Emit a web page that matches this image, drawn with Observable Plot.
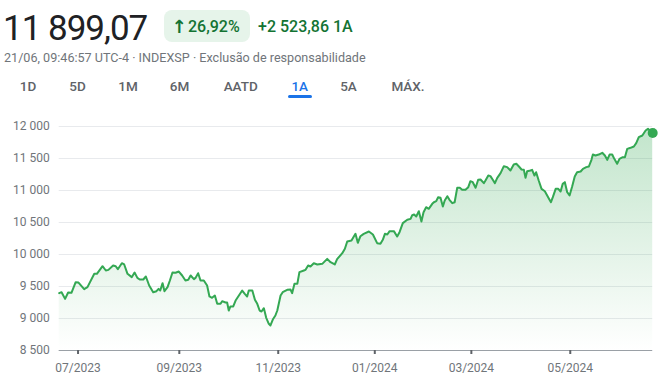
<!DOCTYPE html>
<html><head><meta charset="utf-8">
<script src="https://cdn.jsdelivr.net/npm/d3@7"></script>
<script src="https://cdn.jsdelivr.net/npm/@observablehq/plot@0.6"></script>
<style>
html,body{margin:0;padding:0;background:#fff;width:671px;height:387px;overflow:hidden;font-family:Roboto,sans-serif;}
#header{position:absolute;left:0;top:0;}
#chart{position:absolute;left:0;top:105px;}
</style></head><body>
<svg id="header" width="671" height="105" font-family="Roboto, sans-serif">
  <text x="3" y="40" font-size="35" fill="#202124" letter-spacing="-1">11 899,07</text>
  <rect x="164" y="10" width="86" height="32" rx="8" fill="#e6f4ea"></rect>
  <text x="179" y="32.5" font-size="18" font-weight="bold" font-family="DejaVu Sans" fill="#137333" text-anchor="middle">↑</text>
  <text x="188" y="31.5" font-size="16" font-weight="500" fill="#137333">26,92%</text>
  <text x="258" y="31.5" font-size="16" font-weight="500" fill="#137333">+2 523,86 1A</text>
  <text x="4" y="61.5" font-size="12.6" fill="#70757a">21/06, 09:46:57 UTC-4 · INDEXSP · Exclusão de responsabilidade</text>
  <g font-size="13.5" font-weight="500" fill="#5f6368" text-anchor="middle">
    <text x="28" y="91">1D</text>
    <text x="77.5" y="91">5D</text>
    <text x="128" y="91">1M</text>
    <text x="179.5" y="91">6M</text>
    <text x="240.7" y="91">AATD</text>
    <text x="299.7" y="91" fill="#1a73e8">1A</text>
    <text x="348.5" y="91">5A</text>
    <text x="408" y="91">MÁX.</text>
  </g>
  <rect x="288" y="95" width="24" height="3" rx="1.5" fill="#1a73e8"></rect>
</svg>
<div id="chart"></div>
<script>
// trading-session index since 21/06/2023 (0) to 21/06/2024 (252)
const day = [0,1.0,2.5,3.8,5.2,7.0,8.2,10.6,12.0,14.9,16.0,18.4,19.8,20.9,22.9,24.0,24.9,26.6,27.6,29.0,30.8,32.0,33.2,34.2,35.7,36.8,38.2,39.9,41.3,42.2,42.9,43.9,44.7,46.0,47.0,48.1,
49.4,50.8,52.2,53.6,54.8,55.8,57.2,57.9,59.0,60.0,61.4,62.8,63.8,64.9,66.1,67.1,68.5,69.2,70.6,71.3,72.0,72.7,73.9,74.9,76.3,77.7,78.8,79.8,80.5,82.0,83.1,84.1,85.1,85.9,86.9,87.9,89.0,89.7,90.7,91.8,92.6,94.0,94.9,96.8,98.2,98.9,99.9,101.1,102.0,103.9,104.6,
105.7,106.7,108.1,109.6,111.7,113.8,115.2,117.0,118.0,120.2,121.3,122.3,124.1,125.1,125.8,126.8,127.9,129.3,131.5,133.2,135.0,136.4,137.4,138.3,139.3,140.3,142.1,143.5,144.5,145.9,147.8,149.2,149.9,150.7,151.6,152.7,153.8,154.7,155.8,156.9,158.4,159.1,160.1,160.9,161.9,162.9,163.7,164.8,165.7,166.9,167.9,169.0,170.1,171.1,172.5,173.7,174.6,175.6,176.8,177.9,178.9,180.3,181.0,182.2,183.1,184.1,185.0,186.0,187.4,188.8,190.2,191.6,193.0,194.1,195.2,196.3,197.3,198.0,198.7,200.1,200.8,201.8,202.5,203.6,204.8,206.2,207.6,208.8,209.6,210.8,211.9,212.9,213.8,214.7,215.7,216.7,217.8,218.9,219.9,221.4,222.4,223.8,224.9,226.0,226.6,227.7,229.1,230.6,231.7,232.7,233.7,234.8,235.7,236.9,237.9,239.3,240.2,241.2,242.6,244.0,245.0,246.1,247.6,249.0,250.0,250.8,252];
const value = [9396,9411,9307,9406,9401,9567,9562,9458,9490,9698,9698,9817,9750,9760,9828,9817,9770,9864,9844,9698,9646,9719,9635,9609,9609,9656,9516,9411,9427,9463,9437,9552,9427,9490,9594,9719,
9714,9734,9672,9594,9604,9672,9615,9635,9708,9594,9594,9516,9344,9323,9359,9229,9229,9271,9250,9250,9125,9188,9188,9281,9359,9437,9385,9344,9437,9437,9292,9229,9125,9109,9161,9010,8917,8891,8984,9047,9125,9359,9411,9448,9453,9396,9542,9542,9724,9750,9760,
9828,9813,9864,9844,9854,9932,9880,9844,9927,10021,10089,10203,10219,10281,10323,10182,10286,10323,10359,10313,10177,10167,10229,10323,10313,10365,10365,10281,10349,10490,10542,10557,10614,10625,10594,10677,10516,10661,10739,10714,10792,10817,10833,10896,10886,10750,10844,10911,10855,10802,10817,11042,11042,11011,11011,11052,11146,11130,11042,11167,11172,11115,11156,11234,11224,11167,11115,11198,11271,11380,11365,11313,11406,11417,11375,11328,11323,11198,11302,11313,11323,11234,11286,11156,11026,10989,10896,10817,10896,11026,11026,10984,11104,11130,10974,10922,11063,11219,11286,11297,11339,11365,11375,11479,11562,11547,11562,11589,11547,11479,11562,11562,11495,11417,11495,11521,11521,11651,11667,11688,11740,11833,11859,11938,11964,11938,11899.07];
const yTicks = [8500, 9000, 9500, 10000, 10500, 11000, 11500, 12000];
const tickDays = [8, 51, 93, 134, 175, 217];
const tickLabels = ["07/2023", "09/2023", "11/2023", "01/2024", "03/2024", "05/2024"];

const data = day.map((d, i) => ({day: d, value: value[i]}));
const fmtY = d => d3.format(",")(d).replace(/,/g, " ");

const chart = Plot.plot({
  width: 671, height: 282,
  marginLeft: 58.7, marginRight: 18.8, marginTop: 21, marginBottom: 37,
  style: {fontFamily: "Roboto, sans-serif", fontSize: "12px", background: "transparent", overflow: "visible"},
  x: {type: "linear", domain: [0, 252], label: null},
  y: {domain: [8500, 12000], label: null},
  marks: [
    Plot.gridY(yTicks, {stroke: "#e8eaed", strokeOpacity: 1, strokeWidth: 1}),
    Plot.areaY(data, {x: "day", y1: () => 8500, y2: "value", fill: "url(#areaGrad)"}),
    Plot.ruleY([8500], {stroke: "#9aa0a6", strokeWidth: 1}),
    Plot.axisY(yTicks, {tickSize: 0, tickPadding: 9.5, tickFormat: fmtY, color: "#70757a", fontSize: 12, label: null}),
    Plot.axisX(tickDays, {tickSize: 4, strokeWidth: 2, color: "#5f6368", tickFormat: () => "", label: null}),
    Plot.axisX(tickDays, {tickSize: 0, tickPadding: 13, tickFormat: d => tickLabels[tickDays.indexOf(d)], color: "#70757a", fontSize: 12, label: null}),
    Plot.lineY(data, {x: "day", y: "value", stroke: "#34a853", strokeWidth: 2}),
    Plot.dot([data[data.length - 1]], {x: "day", y: "value", r: 5, fill: "#34a853"})
  ]
});
d3.select(chart).insert("defs", ":first-child").html(
  '<linearGradient id="areaGrad" x1="0" y1="0" x2="0" y2="1">' +
  '<stop offset="0" stop-color="#34a853" stop-opacity="0.3"></stop>' +
  '<stop offset="1" stop-color="#34a853" stop-opacity="0"></stop>' +
  '</linearGradient>');
document.getElementById("chart").appendChild(chart);
</script>
</body></html>
